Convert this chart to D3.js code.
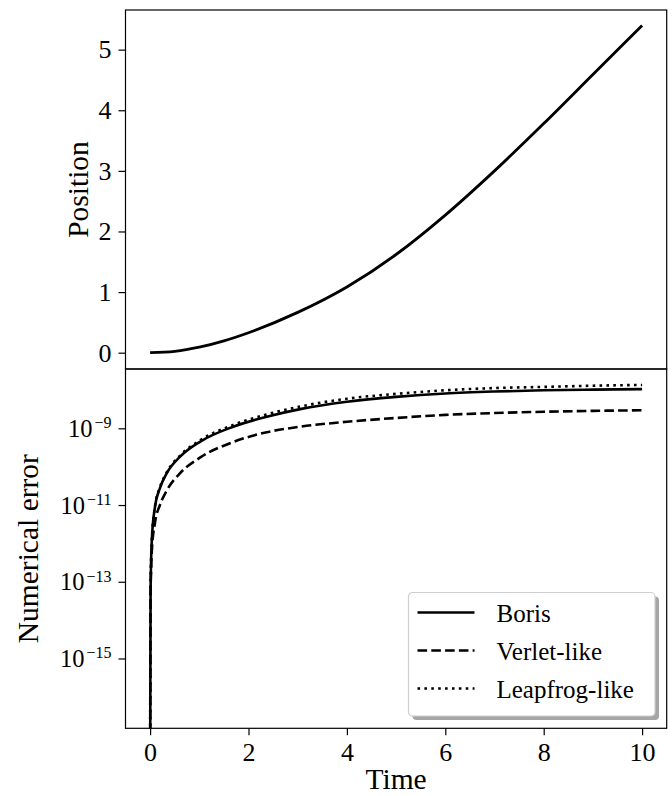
<!DOCTYPE html>
<html>
<head>
<meta charset="utf-8">
<script src="https://cdn.jsdelivr.net/npm/d3@7"></script>
<style>
  body { margin: 0; background: #fff; }
  svg { display: block; }
  text { font-family: "Liberation Serif", "Times New Roman", serif; fill: #000; }
</style>
</head>
<body>
<div id="chart"></div>
<script>
// ===== data =====
var posTime = [0, 0.5, 1, 1.5, 2, 3, 4, 5, 6, 7, 8, 9, 10];
var position = [0, 0.022, 0.09, 0.195, 0.33, 0.665, 1.085, 1.62, 2.27, 3.0, 3.78, 4.59, 5.40];

var errTime = [0, 0.01, 0.035, 0.1, 0.2, 0.34, 0.61, 1.02, 1.69, 2.37, 3.05, 4, 5, 6, 7, 8, 9, 10];
var borisErr = [0, 6.3e-14, 1.23e-12, 9.1e-12, 2.75e-11, 6.8e-11, 1.82e-10, 4.5e-10, 1.1e-9, 2.0e-9,
                3.16e-9, 4.9e-9, 6.6e-9, 8.1e-9, 9.1e-9, 9.8e-9, 1.02e-8, 1.05e-8];
var verletErr = [0, 5.0e-14, 6.3e-13, 3.5e-12, 1.0e-11, 2.4e-11, 6.8e-11, 1.74e-10, 4.4e-10, 7.9e-10,
                 1.1e-9, 1.48e-9, 1.86e-9, 2.24e-9, 2.5e-9, 2.7e-9, 2.85e-9, 2.95e-9];
var leapfrogErr = [0, 6.3e-14, 1.26e-12, 9.3e-12, 2.9e-11, 7.2e-11, 1.95e-10, 4.9e-10, 1.23e-9, 2.3e-9,
                   3.7e-9, 5.9e-9, 7.9e-9, 9.8e-9, 1.12e-8, 1.2e-8, 1.29e-8, 1.35e-8];

var xTicks = [0, 2, 4, 6, 8, 10];
var posTicks = [0, 1, 2, 3, 4, 5];
var errExps = [-15, -13, -11, -9];
var seriesNames = ["Boris", "Verlet-like", "Leapfrog-like"];

// ===== layout =====
var W = 672, H = 796;
var pLeft = 125.5, pRight = 666.7, pTop = 10, pMid = 369, pBottom = 728.3;
var lw = 2.6;
var dashes = ["none", (3.7*lw) + "," + (1.6*lw), lw + "," + (1.65*lw)];

var svg = d3.select("#chart").append("svg")
    .attr("width", W)
    .attr("height", H);

var x = d3.scaleLinear().domain([-0.5, 10.5]).range([pLeft, pRight]);
var yPos = d3.scaleLinear().domain([-0.269, 5.654]).range([pMid, pTop]);
var yErr = d3.scaleLog().domain([Math.pow(10, -16.82), Math.pow(10, -7.454)]).range([pBottom, pMid]);

// clip areas
var defs = svg.append("defs");
defs.append("clipPath").attr("id", "clipTop").append("rect")
    .attr("x", pLeft).attr("y", pTop).attr("width", pRight - pLeft).attr("height", pMid - pTop);
defs.append("clipPath").attr("id", "clipBot").append("rect")
    .attr("x", pLeft).attr("y", pMid).attr("width", pRight - pLeft).attr("height", pBottom - pMid);

function styleAxis(g){
    g.attr("font-size", null).attr("font-family", null);
    g.select(".domain").remove();
    g.selectAll(".tick line").attr("stroke", "#000").attr("stroke-width", 1.2);
    g.selectAll(".tick text").attr("font-size", "26px").attr("fill", "#000");
}

// ----- top panel: position -----
svg.append("g")
    .attr("transform", "translate(" + pLeft + ",0)")
    .call(d3.axisLeft(yPos).tickValues(posTicks).tickSize(7).tickPadding(7).tickFormat(d3.format("d")))
    .call(styleAxis);

var posLine = d3.line()
    .x(function(d, i){ return x(posTime[i]); })
    .y(function(d){ return yPos(d); })
    .curve(d3.curveMonotoneX);

svg.append("path")
    .datum(position)
    .attr("d", posLine)
    .attr("clip-path", "url(#clipTop)")
    .attr("fill", "none")
    .attr("stroke", "#000")
    .attr("stroke-width", 2.8)
    .attr("stroke-linejoin", "round");

svg.append("rect")
    .attr("x", pLeft).attr("y", pTop)
    .attr("width", pRight - pLeft).attr("height", pMid - pTop)
    .attr("fill", "none").attr("stroke", "#000").attr("stroke-width", 1.2);

svg.append("text")
    .attr("transform", "translate(88," + ((pTop + pMid) / 2) + ") rotate(-90)")
    .attr("text-anchor", "middle")
    .attr("font-size", "29.5px")
    .text("Position");

// ----- bottom panel: numerical error -----
var errAxis = svg.append("g")
    .attr("transform", "translate(" + pLeft + ",0)")
    .call(d3.axisLeft(yErr)
        .tickValues(errExps.map(function(e){ return Math.pow(10, e); }))
        .tickSize(7).tickPadding(7).tickFormat(function(){ return ""; }))
    .call(styleAxis);

errAxis.selectAll(".tick text").each(function(d, i){
    var t = d3.select(this).attr("dy", null).attr("y", 8);
    t.append("tspan").attr("font-size", "24.5px").text("10");
    t.append("tspan").attr("font-size", "16px").attr("dx", 2).attr("dy", -8.5)
        .text("\u2212" + (-errExps[i]));
});

svg.append("g")
    .attr("transform", "translate(0," + pBottom + ")")
    .call(d3.axisBottom(x).tickValues(xTicks).tickSize(7).tickPadding(7).tickFormat(d3.format("d")))
    .call(styleAxis);

function errLine(vals){
    return d3.line()
        .x(function(d, i){ return x(errTime[i]); })
        .y(function(d){ return d > 0 ? yErr(d) : pBottom + 60; })
        .curve(d3.curveMonotoneX)(vals);
}

var errSeries = [borisErr, verletErr, leapfrogErr];
errSeries.forEach(function(vals, i){
    svg.append("path")
        .attr("d", errLine(vals))
        .attr("clip-path", "url(#clipBot)")
        .attr("fill", "none")
        .attr("stroke", "#000")
        .attr("stroke-width", lw)
        .attr("stroke-dasharray", dashes[i]);
});

svg.append("rect")
    .attr("x", pLeft).attr("y", pMid)
    .attr("width", pRight - pLeft).attr("height", pBottom - pMid)
    .attr("fill", "none").attr("stroke", "#000").attr("stroke-width", 1.2);

svg.append("text")
    .attr("transform", "translate(38," + ((pMid + pBottom) / 2) + ") rotate(-90)")
    .attr("text-anchor", "middle")
    .attr("font-size", "29.5px")
    .text("Numerical error");

svg.append("text")
    .attr("x", (pLeft + pRight) / 2)
    .attr("y", 789)
    .attr("text-anchor", "middle")
    .attr("font-size", "29.5px")
    .text("Time");

// ----- legend -----
var lg = svg.append("g").attr("transform", "translate(408.5,592.5)");
var lgW = 246.5, lgH = 123.5;
lg.append("rect")
    .attr("x", 4).attr("y", 4).attr("width", lgW).attr("height", lgH)
    .attr("rx", 4).attr("fill", "#a6a6a6");
lg.append("rect")
    .attr("width", lgW).attr("height", lgH)
    .attr("rx", 4).attr("fill", "#fff")
    .attr("stroke", "#cfcfcf").attr("stroke-width", 1.2);

seriesNames.forEach(function(name, i){
    var cy = 20 + i * 38;
    lg.append("line")
        .attr("x1", 9).attr("x2", 66)
        .attr("y1", cy).attr("y2", cy)
        .attr("stroke", "#000")
        .attr("stroke-width", lw)
        .attr("stroke-dasharray", dashes[i]);
    lg.append("text")
        .attr("x", 88)
        .attr("y", cy + 9.5)
        .attr("font-size", "25px")
        .text(name);
});
</script>
</body>
</html>
